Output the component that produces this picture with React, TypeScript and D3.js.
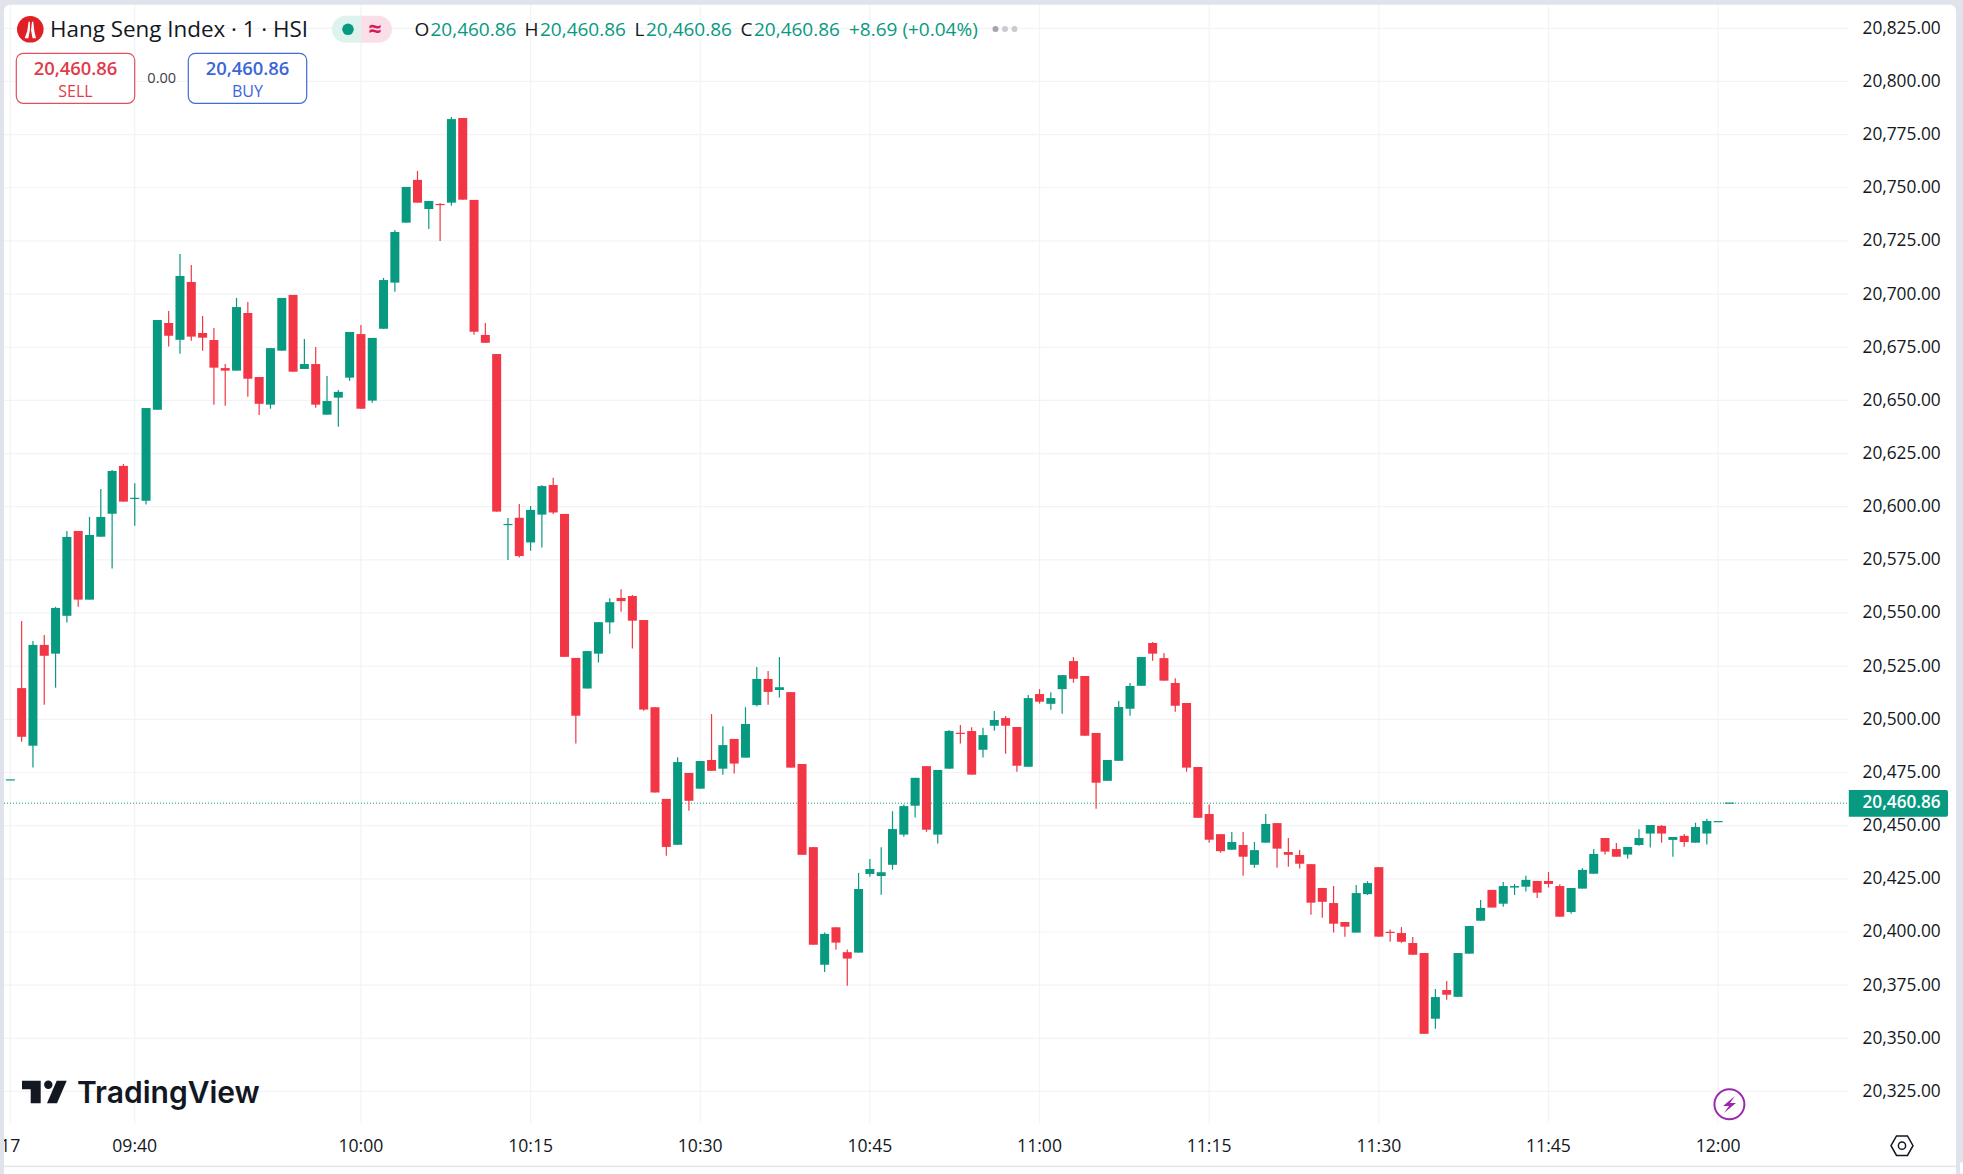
import { useEffect, useRef } from 'react'
import * as d3 from 'd3'

const W = 1963
const H = 1174
const FONT = '"Open Sans", "Noto Sans", sans-serif'
const GREEN = '#089981'
const RED = '#f23645'
const GRID = '#f1f3f6'
const INK = '#131722'
const FRAME = '#e0e3eb'

// * Price and time ticks
const priceTicks = [20325, 20350, 20375, 20400, 20425, 20450, 20475, 20500, 20525, 20550, 20575, 20600, 20625, 20650, 20675, 20700, 20725, 20750, 20775, 20800, 20825]
const timeTickBars = [0, 11, 31, 46, 61, 76, 91, 106, 121, 136, 151]
const timeTickLabels = ['17', '09:40', '10:00', '10:15', '10:30', '10:45', '11:00', '11:15', '11:30', '11:45', '12:00']
const lastPrice = 20460.86

// * One minute bars
const opens = [
  20471.8, 20514.7, 20487.6, 20535, 20530.9, 20548.7, 20588.6, 20556.3, 20585.9, 20596.7,
  20619.2, 20603.8, 20602.8, 20645.6, 20686.4, 20678.5, 20705.7, 20681.7, 20678.4, 20665.2,
  20664, 20691.1, 20661, 20648, 20673.4, 20699.6, 20664.8, 20667.1, 20643.3, 20651.3,
  20660.7, 20681.2, 20649.9, 20683.7, 20705.4, 20733.6, 20753.7, 20740, 20742.4, 20743,
  20782.8, 20744.3, 20680.8, 20671.8, 20591.5, 20594.8, 20583.2, 20596.3, 20610.2, 20596.6,
  20528.9, 20514.5, 20530.9, 20545.6, 20557.1, 20558, 20546.7, 20505.7, 20462.6, 20441,
  20474.8, 20467.4, 20480.9, 20476.8, 20490.8, 20482, 20506.7, 20519, 20513.8, 20512.8,
  20479, 20439.9, 20384.6, 20402.2, 20390.5, 20390.3, 20427.3, 20426.3, 20431.6, 20445.8,
  20459.4, 20478, 20445.8, 20476.8, 20493.7, 20494.5, 20485.7, 20497, 20500.6, 20496.4,
  20477.7, 20511.9, 20507.3, 20514.2, 20527.4, 20520.4, 20493.6, 20471.1, 20480.5, 20505,
  20515.8, 20535.9, 20528.8, 20517.1, 20507.7, 20477.6, 20455.5, 20446, 20438.7, 20440.9,
  20431.6, 20442, 20451.2, 20437.6, 20436.2, 20431.9, 20420.7, 20413.6, 20404.7, 20399.7,
  20417.8, 20430.5, 20400.1, 20399.5, 20394.8, 20390.1, 20359.2, 20372.7, 20369.5, 20389.8,
  20405.3, 20419.8, 20413.3, 20420.9, 20421.3, 20424, 20424, 20421.6, 20409.4, 20420.4,
  20427.4, 20444.2, 20439, 20436.4, 20440.9, 20446.3, 20449.9, 20443.3, 20445.2, 20442,
  20446.3, 20452.17, 20460.86,
]
const highs = [
  20471.8, 20546.3, 20536.8, 20539.7, 20552.9, 20588.6, 20588.6, 20595.2, 20608.3, 20617.3,
  20620.1, 20611, 20646.4, 20687.8, 20692, 20718.9, 20713.7, 20689.7, 20684, 20667.1,
  20698.2, 20696.3, 20661, 20674.6, 20698.2, 20699.6, 20678.9, 20675.1, 20661.5, 20654.9,
  20682.2, 20685.5, 20679.4, 20707.6, 20730.1, 20750.4, 20757.9, 20743.8, 20742.8, 20783.3,
  20782.8, 20744.3, 20686.4, 20671.8, 20594.7, 20601.3, 20600.3, 20610.1, 20613.6, 20596.6,
  20528.9, 20532.1, 20545.7, 20557, 20561.2, 20558.5, 20546.7, 20505.7, 20462.6, 20482.2,
  20474.8, 20480.4, 20502.5, 20496.8, 20490.8, 20505.7, 20524.6, 20522.7, 20529.3, 20512.8,
  20479, 20439.9, 20399.7, 20402.2, 20391.8, 20427.8, 20434.3, 20439.9, 20456.8, 20460,
  20472.5, 20478, 20476.2, 20495, 20497.3, 20496.3, 20496, 20503.9, 20501.6, 20496.4,
  20511.4, 20514.2, 20512.8, 20520.8, 20529.3, 20520.4, 20493.6, 20480.9, 20508.6, 20517.1,
  20529.3, 20536.4, 20531.2, 20519.3, 20507.7, 20477.6, 20460, 20446, 20447, 20447,
  20442.3, 20455.5, 20451.2, 20444.2, 20438.5, 20431.9, 20420.7, 20421.6, 20404.7, 20422.1,
  20423.9, 20430.5, 20401.2, 20402.3, 20397.6, 20390.1, 20373.2, 20376.9, 20390.1, 20402.8,
  20415.1, 20419.8, 20423.5, 20422.6, 20426.4, 20424, 20428.2, 20422.4, 20420.7, 20430,
  20439, 20444.2, 20441.9, 20440, 20448.3, 20450.3, 20450.3, 20444.7, 20446.1, 20451.4,
  20453.2, 20452.17, 20460.86,
]
const lows = [
  20471.8, 20489.5, 20477.3, 20506.9, 20514.9, 20545.5, 20553, 20556.3, 20585.9, 20570.9,
  20602.4, 20591, 20601, 20645.6, 20675.3, 20672, 20678, 20673.4, 20648, 20647.5,
  20664, 20651.7, 20643.1, 20646.1, 20673.4, 20663.5, 20664.8, 20646.6, 20643.3, 20637.6,
  20659.3, 20646.1, 20648.9, 20683.7, 20701.1, 20733.6, 20743, 20730.6, 20725, 20741.6,
  20744.4, 20680.9, 20677.1, 20597.7, 20574.9, 20576.1, 20579.3, 20580.8, 20596.6, 20529.4,
  20488.6, 20514.5, 20526.7, 20540.3, 20550.6, 20533.3, 20504.1, 20465.6, 20435.8, 20441,
  20457, 20467.4, 20475.8, 20474, 20474.5, 20482, 20506.2, 20506.9, 20510.3, 20477.3,
  20436.3, 20394, 20381.2, 20391.7, 20374.7, 20390.3, 20426, 20417.5, 20429.3, 20444.8,
  20453.8, 20447.1, 20441.6, 20476.8, 20488.6, 20474, 20482.1, 20494.6, 20483.8, 20475.4,
  20477.7, 20507.4, 20504.5, 20502.6, 20517.2, 20492.3, 20458, 20471.1, 20480.5, 20501.7,
  20515.8, 20527.6, 20518.2, 20503.6, 20475.4, 20453.7, 20442, 20437.3, 20438.7, 20426.4,
  20430.2, 20442, 20430.2, 20430.7, 20429.8, 20408.1, 20406.7, 20399.7, 20397.8, 20399.7,
  20417.4, 20397.8, 20395.4, 20394.9, 20389.3, 20352.1, 20354.5, 20368.1, 20369.5, 20389.8,
  20405.3, 20411.5, 20411.9, 20417.4, 20419, 20416, 20420.9, 20407.2, 20408.6, 20420.4,
  20427.4, 20436.4, 20435.4, 20434.5, 20440.6, 20439.7, 20442, 20435.4, 20440.1, 20442,
  20441.1, 20452.17, 20460.86,
]
const closes = [
  20471.8, 20491.8, 20535, 20529.9, 20552.4, 20585.8, 20556.3, 20586.7, 20595.2, 20616.8,
  20602.4, 20604.2, 20646.4, 20687.8, 20680.4, 20708.5, 20680, 20679.5, 20665.4, 20664,
  20693.9, 20660.2, 20648.4, 20674.6, 20698.2, 20663.5, 20667.1, 20648, 20649.7, 20654,
  20682.2, 20646.1, 20679.4, 20706.6, 20729.2, 20750.4, 20743, 20743.8, 20742, 20782.3,
  20744.4, 20682.3, 20677.1, 20597.7, 20591.9, 20576.8, 20598.5, 20609.7, 20597.3, 20529.4,
  20501.7, 20532.1, 20545.7, 20555.1, 20555.6, 20546.4, 20504.6, 20465.6, 20440, 20479.9,
  20461.7, 20480.4, 20475.8, 20487.9, 20479.2, 20497.8, 20519, 20512.9, 20515.1, 20477.3,
  20436.3, 20394, 20399.1, 20395, 20387.5, 20420.2, 20429.6, 20428.1, 20448.4, 20459.2,
  20472.5, 20448.1, 20476.2, 20494.5, 20493.3, 20474, 20492.6, 20499.7, 20497, 20478.2,
  20510, 20508.3, 20510, 20520.8, 20519.1, 20492.3, 20470.2, 20480.9, 20505.8, 20515.7,
  20529.3, 20530.9, 20518.2, 20506.4, 20477.3, 20453.7, 20443.4, 20438, 20442.3, 20435.4,
  20438.5, 20450.8, 20439.2, 20436.3, 20432.1, 20413.8, 20414.2, 20403.9, 20402.5, 20418.3,
  20423, 20397.8, 20399.7, 20395.4, 20389.3, 20352.1, 20369.4, 20370.5, 20390.1, 20402.8,
  20411.3, 20411.5, 20421.6, 20421.6, 20424.5, 20418.5, 20422.6, 20407.2, 20420.7, 20429.2,
  20436.7, 20437.8, 20435.4, 20440, 20444.2, 20450.3, 20446.3, 20444.7, 20442.3, 20449.4,
  20452.2, 20452.17, 20460.86,
]

// * Legend pieces above the chart
const ohlcLegend = [
  { letter: 'O', x: 414.5, value: '20,460.86', vx: 430.5 },
  { letter: 'H', x: 524.5, value: '20,460.86', vx: 540 },
  { letter: 'L', x: 634.5, value: '20,460.86', vx: 646 },
  { letter: 'C', x: 740.5, value: '20,460.86', vx: 754 },
]

export default function App() {
  const ref = useRef<SVGSVGElement | null>(null)

  useEffect(() => {
    const svg = d3.select(ref.current)
    svg.selectAll('*').remove()
    svg.attr('font-family', FONT)

    const x = d3.scaleLinear().domain([0, 152]).range([10.33, 10.33 + 152 * 11.31])
    const y = d3.scaleLinear().domain([20350, 20825]).range([1038.3, 28.3])
    const fmt = d3.format(',.2f')

    // * Frame and white panel
    svg.append('rect').attr('width', W).attr('height', H).attr('fill', FRAME)
    svg.append('rect').attr('x', 4).attr('y', 4.7).attr('width', 1952).attr('height', 1180).attr('rx', 6).attr('fill', '#fff')
    svg.append('rect').attr('x', 0).attr('y', 1166).attr('width', W).attr('height', 8).attr('fill', '#fff')
    svg.append('rect').attr('x', 0).attr('y', 1165.5).attr('width', 4).attr('height', 9).attr('fill', FRAME)
    svg.append('rect').attr('x', 4).attr('y', 1165.7).attr('width', 1952).attr('height', 1.4).attr('fill', FRAME)
    svg.append('rect').attr('x', 1956).attr('y', 1160).attr('width', 7).attr('height', 14).attr('fill', FRAME)
    svg.append('rect').attr('x', 1960).attr('y', 1162).attr('width', 3).attr('height', 12).attr('rx', 2).attr('fill', '#fff')

    svg.append('clipPath').attr('id', 'panel').append('rect').attr('x', 4).attr('y', 4.7).attr('width', 1952).attr('height', 1170)
    const chart = svg.append('g').attr('clip-path', 'url(#panel)')

    // * Grid
    chart.append('g').selectAll('line').data(priceTicks).join('line')
      .attr('x1', 4).attr('x2', 1848).attr('y1', (d) => y(d)).attr('y2', (d) => y(d))
      .attr('stroke', GRID).attr('stroke-width', 1.2)
    chart.append('g').selectAll('line').data(timeTickBars).join('line')
      .attr('x1', (d) => x(d)).attr('x2', (d) => x(d)).attr('y1', 4.7).attr('y2', 1123)
      .attr('stroke', GRID).attr('stroke-width', 1.2)

    // * Last price line
    chart.append('line')
      .attr('x1', 4).attr('x2', 1848).attr('y1', y(lastPrice) + 0.6).attr('y2', y(lastPrice) + 0.6)
      .attr('stroke', GREEN).attr('stroke-width', 1).attr('stroke-dasharray', '1 2')

    // * Candles
    const bars = opens.map((o, i) => ({ i, o, h: highs[i], l: lows[i], c: closes[i] }))
    const colour = (d: { i: number, o: number, c: number }) => (d.o > d.c ? RED : GREEN)
    const candle = chart.append('g').selectAll('g').data(bars).join('g')
    candle.append('line')
      .attr('x1', (d) => x(d.i)).attr('x2', (d) => x(d.i))
      .attr('y1', (d) => y(d.h)).attr('y2', (d) => y(d.l))
      .attr('stroke', colour).attr('stroke-width', 1.2)
    candle.append('rect')
      .attr('x', (d) => x(d.i) - 4.5).attr('width', 9)
      .attr('y', (d) => y(Math.max(d.o, d.c)))
      .attr('height', (d) => Math.max(1.2, Math.abs(y(d.o) - y(d.c))))
      .attr('fill', colour)

    // * Price axis
    const priceAxis = chart.append('g')
      .attr('transform', 'translate(1862.5,-0.6)')
      .call(d3.axisRight(y).tickValues(priceTicks).tickFormat((d) => fmt(d as number)).tickSize(0).tickPadding(0))
    priceAxis.select('.domain').remove()
    priceAxis.selectAll('text').attr('font-size', 17.3).attr('fill', INK).attr('font-family', FONT)

    // * Time axis
    const timeAxis = chart.append('g')
      .attr('transform', 'translate(-0.5,1139)')
      .call(d3.axisBottom(x).tickValues(timeTickBars).tickFormat((_, i) => timeTickLabels[i]).tickSize(0).tickPadding(0))
    timeAxis.select('.domain').remove()
    timeAxis.selectAll('text').attr('font-size', 17.6).attr('fill', INK).attr('font-family', FONT)

    // * Last price tag
    svg.append('path')
      .attr('d', 'M1848.8 790 H1946 a2 2 0 0 1 2 2 V814.7 a2 2 0 0 1 -2 2 H1848.8 Z')
      .attr('fill', GREEN)
    svg.append('text')
      .attr('x', 1862.5).attr('y', y(lastPrice) + 5.4)
      .attr('font-size', 17.2).attr('font-weight', 600).attr('fill', '#fff').text(fmt(lastPrice))

    // * Symbol title
    svg.append('circle').attr('cx', 30.3).attr('cy', 29.3).attr('r', 13.3).attr('fill', '#e02027')
    svg.append('path')
      .attr('d', 'M28.6 21.7 H29.9 V30 L28.4 38.3 H24.7 Q28 31 28.6 21.7 Z M32 21.7 H33.3 Q33.9 31 36 38.3 H32.6 L31 30 Z')
      .attr('fill', '#fff')
    svg.append('text').attr('x', 50).attr('y', 37).attr('font-size', 22.4).attr('fill', INK)
      .text('Hang Seng Index · 1 · HSI')

    // * Status pill
    svg.append('path').attr('d', 'M361 15.7 H345.5 a13.5 13.5 0 0 0 0 27 H361 Z').attr('fill', '#def3ee')
    svg.append('path').attr('d', 'M361 15.7 H378.5 a13.5 13.5 0 0 1 0 27 H361 Z').attr('fill', '#fbdfe8')
    svg.append('circle').attr('cx', 348).attr('cy', 29.3).attr('r', 5.8).attr('fill', GREEN)
    svg.append('text').attr('x', 375).attr('y', 36.5).attr('text-anchor', 'middle').attr('font-size', 23)
      .attr('font-weight', 700).attr('fill', '#d81b60').text('≈')

    // * OHLC legend
    const legend = svg.append('g').attr('font-size', 19)
    ohlcLegend.forEach((d) => {
      legend.append('text').attr('x', d.x).attr('y', 35.5).attr('fill', INK).text(d.letter)
      legend.append('text').attr('x', d.vx).attr('y', 35.5).attr('fill', GREEN).text(d.value)
    })
    legend.append('text').attr('x', 849).attr('y', 35.5).attr('fill', GREEN).text('+8.69 (+0.04%)')
    svg.append('g').selectAll('circle').data([995.5, 1005, 1014.5]).join('circle')
      .attr('cx', (d) => d).attr('cy', 29).attr('r', 3).attr('fill', (_, i) => (i === 0 ? '#a3a6af' : '#c9cbd1'))

    // * Sell and buy boxes
    const boxes = [
      { bx: 16.3, label: 'SELL', colour: '#e03b4a', border: '#e2505c' },
      { bx: 188.3, label: 'BUY', colour: '#3a66d9', border: '#3f6cd8' },
    ]
    boxes.forEach((b) => {
      svg.append('rect').attr('x', b.bx).attr('y', 53.3).attr('width', 118.4).attr('height', 50).attr('rx', 7)
        .attr('fill', '#fff').attr('stroke', b.border).attr('stroke-width', 1.2)
      svg.append('text').attr('x', b.bx + 59.2).attr('y', 74.5).attr('text-anchor', 'middle')
        .attr('font-size', 18.4).attr('font-weight', 600).attr('fill', b.colour).text(fmt(lastPrice))
      svg.append('text').attr('x', b.bx + 59.2).attr('y', 97).attr('text-anchor', 'middle')
        .attr('font-size', 16).attr('fill', b.colour).text(b.label)
    })
    svg.append('text').attr('x', 161.7).attr('y', 83).attr('text-anchor', 'middle')
      .attr('font-size', 14.5).attr('fill', '#3c404a').text('0.00')

    // * TradingView mark
    const mark = svg.append('g').attr('fill', INK)
    mark.append('path').attr('d', 'M22 1080.7 H40.7 V1103.3 H30.7 V1089.3 H22 Z')
    mark.append('circle').attr('cx', 48.3).attr('cy', 1084.8).attr('r', 4.2)
    mark.append('path').attr('d', 'M56.7 1080.7 H66.7 L57 1103.3 H47 Z')
    mark.append('text').attr('x', 77).attr('y', 1103.3).attr('font-family', 'Inter, sans-serif')
      .attr('font-size', 30).attr('font-weight', 600).text('TradingView')

    // * Lightning badge
    svg.append('circle').attr('cx', 1729.4).attr('cy', 1104.3).attr('r', 15).attr('fill', '#fff')
      .attr('stroke', '#9c27b0').attr('stroke-width', 2)
    svg.append('path').attr('d', 'M1735 1096 L1723 1106 H1729 L1724 1113 L1736 1103 H1730 Z').attr('fill', '#9c27b0')

    // * Settings hexagon
    svg.append('path').attr('d', 'M1891 1145.7 L1896.5 1136 H1907.5 L1913 1145.7 L1907.5 1155.4 H1896.5 Z')
      .attr('fill', 'none').attr('stroke', INK).attr('stroke-width', 1.5)
    svg.append('circle').attr('cx', 1902).attr('cy', 1145.7).attr('r', 3.6)
      .attr('fill', 'none').attr('stroke', INK).attr('stroke-width', 1.5)
  }, [])

  return <svg ref={ref} width={W} height={H} style={{ position: 'fixed', left: 0, top: 0, display: 'block' }} />
}
